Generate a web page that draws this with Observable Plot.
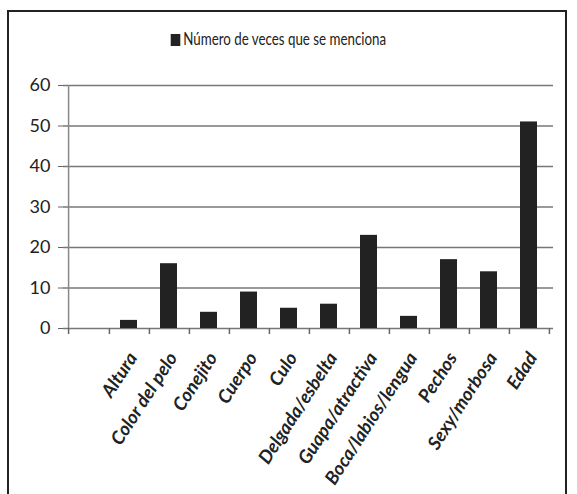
<!DOCTYPE html>
<html>
<head>
<meta charset="utf-8">
<script src="https://cdn.jsdelivr.net/npm/d3@7"></script>
<script src="https://cdn.jsdelivr.net/npm/@observablehq/plot@0.6"></script>
<style>
  html, body { margin: 0; padding: 0; background: #fff; }
  #wrap { position: relative; width: 577px; height: 494px; overflow: hidden; }
  #frame { position: absolute; left: 7px; top: 10px; width: 560px; height: 500px; border: 2px solid #222; box-sizing: border-box; }
  #legend { position: absolute; left: 0; width: 557px; top: 27px; text-align: center;
    font-family: Lato, "Noto Sans", sans-serif;
    font-size: 18px; color: #222; transform: scaleX(0.74); transform-origin: 278px 0; }
  #legend .sw { display: inline-block; width: 13px; height: 12px; background: #222; margin-right: 4px; vertical-align: -1px; }
  #chart { position: absolute; left: 0; top: 0; }
</style>
</head>
<body>
<div id="wrap">
  <div id="frame"></div>
  <div id="chart"></div>
  <div id="legend"><span class="sw"></span>Número de veces que se menciona</div>
</div>
<script>
const categories = ["", "Altura", "Color del pelo", "Conejito", "Cuerpo", "Culo", "Delgada/esbelta", "Guapa/atractiva", "Boca/labios/lengua", "Pechos", "Sexy/morbosa", "Edad"];
const values = [null, 2, 16, 4, 9, 5, 6, 23, 3, 17, 14, 51];
const yTicks = [0, 10, 20, 30, 40, 50, 60];

const data = categories.map((c, i) => ({cat: c, value: values[i]})).filter(d => d.value != null);

const W = 577, H = 494;
const mL = 63, mR = 24, mT = 85, mB = 166;
const step = (W - mL - mR) / categories.length;

const font = 'Lato, "Noto Sans", sans-serif';

const chart = Plot.plot({
  width: W,
  height: H,
  marginLeft: mL,
  marginRight: mR,
  marginTop: mT,
  marginBottom: mB,
  style: {fontFamily: font, background: "transparent", overflow: "visible"},
  x: {domain: categories, type: "band", paddingInner: 0.58, paddingOuter: 0.29, label: null},
  y: {domain: [0, 60], ticks: yTicks, label: null},
  marks: [
    Plot.gridY(yTicks, {stroke: "#777", strokeOpacity: 1, strokeWidth: 1.5}),
    Plot.ruleX([categories[0]], {dx: -step / 2, y1: 0, y2: 60, stroke: "#888", strokeWidth: 1.5}),
    Plot.barY(data, {x: "cat", y: "value", fill: "#222"}),
    Plot.axisX(categories, {tickSize: 6, text: null, label: null, dx: step / 2, stroke: "#666", strokeWidth: 1.5}),
    Plot.axisX([categories[0]], {tickSize: 6, text: null, label: null, dx: -step / 2, stroke: "#666", strokeWidth: 1.5}),
    Plot.axisX(categories.slice(1), {tickSize: 0, tickPadding: 26, tickRotate: -57, dx: 4, label: null,
      fontSize: 18.5, fontWeight: "bold", fontStyle: "italic", fill: "#222"}),
    Plot.axisY(yTicks, {tickSize: 5, tickPadding: 8, label: null, stroke: "#666", fontSize: 18, fill: "#222"})
  ]
});
document.getElementById("chart").appendChild(chart);
</script>
</body>
</html>
